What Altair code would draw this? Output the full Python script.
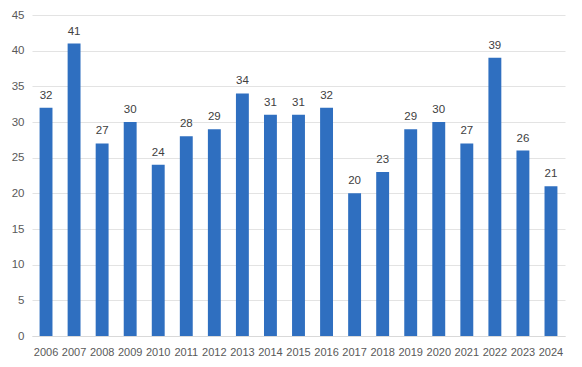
import altair as alt
import pandas as pd

years = [str(y) for y in range(2006, 2025)]
values = [32, 41, 27, 30, 24, 28, 29, 34, 31, 31, 32, 20, 23, 29, 30, 27, 39, 26, 21]

df = pd.DataFrame({"year": years, "value": values})

FONT = "Liberation Sans"

base = alt.Chart(df).encode(
    x=alt.X("year:N", sort=years, title=None,
            scale=alt.Scale(paddingInner=0.54, paddingOuter=0.27),
            axis=alt.Axis(labelAngle=0, labelFont=FONT, labelFontSize=11,
                          labelColor="#595959", domainColor="#D9D9D9",
                          ticks=False, labelPadding=10, grid=False)),
    y=alt.Y("value:Q", title=None,
            scale=alt.Scale(domain=[0, 45], nice=False),
            axis=alt.Axis(values=list(range(0, 50, 5)), labelFont=FONT,
                          labelFontSize=11.5, labelColor="#595959",
                          domain=False, ticks=False, labelPadding=8,
                          gridColor="#E3E3E3")),
)

bars = base.mark_bar(color="#2F6FC0")
labels = base.mark_text(baseline="bottom", dy=-7, font=FONT, fontSize=11.5,
                        color="#404040").encode(text="value:Q")

chart = (bars + labels).properties(
    width=533, height=321,
    autosize=alt.AutoSizeParams(type="none"),
    padding={"left": 24, "top": 7, "right": 9, "bottom": 23},
).configure_view(stroke=None)

chart.save("out.html", embed_options={"renderer": "svg", "actions": False})
